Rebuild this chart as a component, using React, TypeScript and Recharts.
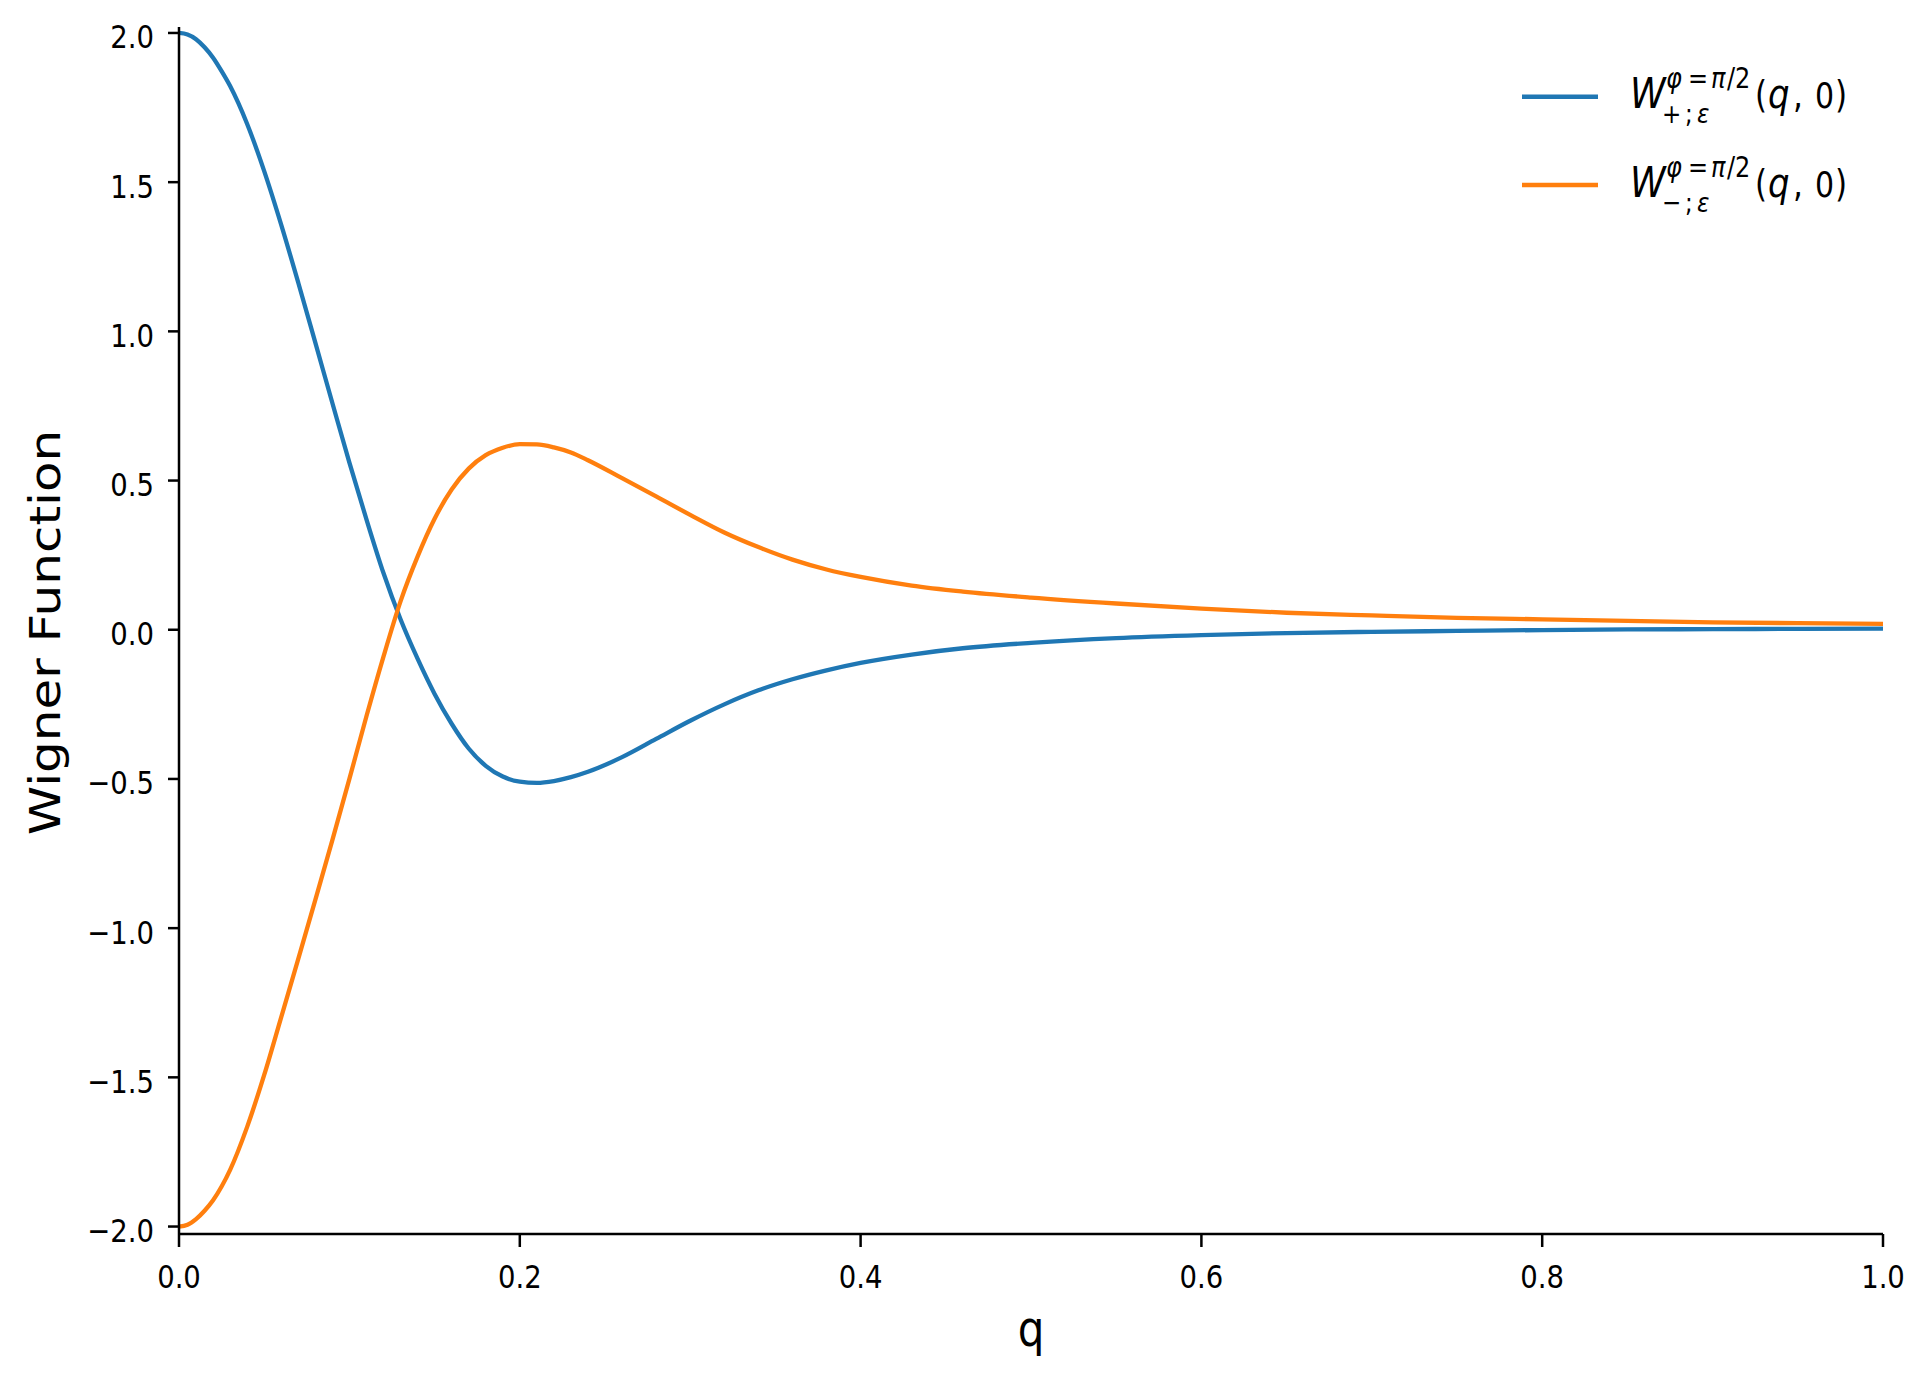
import React from 'react';
import { LineChart, Line, XAxis, YAxis, Legend, Label } from 'recharts';

// ---- data ----
const Q = [0, 0.005, 0.01, 0.015, 0.02, 0.025, 0.03, 0.04, 0.05, 0.06, 0.07, 0.08, 0.09, 0.1, 0.11, 0.12, 0.13, 0.14, 0.15, 0.16, 0.17, 0.18, 0.19, 0.2, 0.21, 0.22, 0.23, 0.24, 0.26, 0.28, 0.3, 0.32, 0.34, 0.36, 0.38, 0.4, 0.43, 0.46, 0.5, 0.55, 0.6, 0.65, 0.7, 0.75, 0.8, 0.85, 0.9, 0.95, 1.0];
const W_PLUS = [2.0, 1.995, 1.979, 1.952, 1.917, 1.872, 1.822, 1.695, 1.537, 1.357, 1.163, 0.962, 0.76, 0.56, 0.37, 0.19, 0.035, -0.097, -0.215, -0.315, -0.398, -0.456, -0.492, -0.509, -0.513, -0.507, -0.494, -0.476, -0.427, -0.366, -0.305, -0.25, -0.203, -0.166, -0.136, -0.111, -0.083, -0.062, -0.044, -0.028, -0.018, -0.011, -0.007, -0.004, -0.001, 0.001, 0.002, 0.003, 0.004];
const W_MINUS = [-2.0, -1.994, -1.975, -1.947, -1.912, -1.866, -1.81, -1.666, -1.492, -1.298, -1.103, -0.905, -0.705, -0.5, -0.29, -0.09, 0.095, 0.245, 0.372, 0.47, 0.54, 0.585, 0.61, 0.622, 0.621, 0.611, 0.594, 0.568, 0.508, 0.447, 0.385, 0.326, 0.277, 0.235, 0.202, 0.177, 0.148, 0.128, 0.108, 0.088, 0.071, 0.057, 0.048, 0.04, 0.035, 0.03, 0.025, 0.022, 0.02];
const X_TICKS = [0, 0.2, 0.4, 0.6, 0.8, 1.0];
const Y_TICKS = [-2.0, -1.5, -1.0, -0.5, 0.0, 0.5, 1.0, 1.5, 2.0];
const SERIES = [
  { key: 'plus', name: 'W+', sign: '+', color: '#1f77b4' },
  { key: 'minus', name: 'W−', sign: '−', color: '#ff7f0e' },
];
const X_LABEL = 'q';
const Y_LABEL = 'Wigner Function';

const data = Q.map((q, i) => ({ q, plus: W_PLUS[i], minus: W_MINUS[i] }));

// ---- styling ----
const W = 1920;
const H = 1370;
const FONT = 'DejaVu Sans';
const SY = 1.19; // vertical stretch of the reference image
const fmt = (v: number) => v.toFixed(1).replace('-', '\u2212');

const XTick = (props: any) => {
  const { x, y, payload } = props;
  return (
    <g transform={`translate(${x},${y + 41}) scale(1,${SY})`}>
      <text x={0} y={0} textAnchor="middle" fontFamily={FONT} fontSize={27.5} fill="#000">
        {fmt(payload.value)}
      </text>
    </g>
  );
};

const YTick = (props: any) => {
  const { x, y, payload } = props;
  return (
    <g transform={`translate(${x - 14},${y + 15.5}) scale(1,${SY})`}>
      <text x={0} y={0} textAnchor="end" fontFamily={FONT} fontSize={27.5} fill="#000">
        {fmt(payload.value)}
      </text>
    </g>
  );
};

const XLabel = (props: any) => {
  const vb = props.viewBox || { x: 179, y: 1234, width: 1704, height: 60 };
  return (
    <g transform={`translate(${vb.x + vb.width / 2},${vb.y + 112}) scale(1,${SY})`}>
      <text x={0} y={0} textAnchor="middle" fontFamily={FONT} fontSize={42} fill="#000">
        {X_LABEL}
      </text>
    </g>
  );
};

const YLabel = (props: any) => {
  const vb = props.viewBox || { x: 0, y: 27, width: 179, height: 1207 };
  return (
    <g transform={`translate(${vb.x + 60},${vb.y + vb.height / 2 + 2}) scale(1,${SY}) rotate(-90)`}>
      <text x={0} y={0} textAnchor="middle" fontFamily={FONT} fontSize={42} fill="#000">
        {Y_LABEL}
      </text>
    </g>
  );
};

const LegendContent = (props: any) => {
  const payload = props.payload || [];
  return (
    <svg width={W} height={260} style={{ display: 'block' }}>
      {payload.map((p: any, i: number) => {
        const s = SERIES.find((d) => d.key === p.dataKey) || SERIES[i];
        const dy = i * 88.3;
        const base = 108.3 + dy;
        return (
          <g key={i}>
            <line x1={1522} x2={1598} y1={96.7 + dy} y2={96.7 + dy} stroke={p.color} strokeWidth={4.5} />
            <g transform={`translate(0,${base}) scale(1,${SY})`} fontFamily={FONT} fill="#000">
              <text x={1630} y={0} fontSize={36} fontStyle="italic">W</text>
              <text x={1755} y={0} fontSize={31}>(</text>
              <text x={1768} y={0} fontSize={34} fontStyle="italic">q</text>
              <text x={1793} y={0} fontSize={31}>,</text>
              <text x={1815} y={0} fontSize={30}>0</text>
              <text x={1835} y={0} fontSize={31}>)</text>
            </g>
            <g transform={`translate(0,${base - 20}) scale(1,${SY})`} fontFamily={FONT} fill="#000">
              <text x={1666} y={0} fontSize={24} fontStyle="italic">φ</text>
              <text x={1688} y={0} fontSize={24}>=</text>
              <text x={1711} y={0} fontSize={24} fontStyle="italic">π</text>
              <text x={1727} y={0} fontSize={24}>/2</text>
            </g>
            <g transform={`translate(0,${base + 15}) scale(1,${SY})`} fontFamily={FONT} fill="#000">
              <text x={1662} y={0} fontSize={23}>{s.sign}</text>
              <text x={1685} y={0} fontSize={23}>;</text>
              <text x={1697} y={0} fontSize={23} fontStyle="italic">ε</text>
            </g>
          </g>
        );
      })}
    </svg>
  );
};

export default function App() {
  return (
    <div style={{ width: W, height: H, background: '#fff' }}>
      <style>{'body{margin:0;background:#fff;}'}</style>
      <LineChart width={W} height={H} data={data} margin={{ top: 27, right: 37, bottom: 76, left: 0 }}>
        <XAxis
          dataKey="q"
          type="number"
          domain={[0, 1]}
          ticks={X_TICKS}
          interval={0}
          height={60}
          tickSize={13}
          tickMargin={0}
          tick={<XTick />}
          tickLine={{ stroke: '#000', strokeWidth: 2.5 }}
          axisLine={{ stroke: '#000', strokeWidth: 2.5 }}
        >
          <Label content={XLabel} />
        </XAxis>
        <YAxis
          type="number"
          domain={[-2.025, 2.02]}
          ticks={Y_TICKS}
          interval={0}
          width={179}
          tickSize={11}
          tickMargin={0}
          tick={<YTick />}
          tickLine={{ stroke: '#000', strokeWidth: 2.5 }}
          axisLine={{ stroke: '#000', strokeWidth: 2.5 }}
          allowDataOverflow
        >
          <Label content={YLabel} />
        </YAxis>
        <Legend
          layout="horizontal"
          verticalAlign="middle"
          align="center"
          content={LegendContent}
          wrapperStyle={{ position: 'absolute', left: 0, top: 0, width: W, height: 260 }}
        />
        {SERIES.map((s) => (
          <Line
            key={s.key}
            dataKey={s.key}
            name={s.name}
            type="monotone"
            stroke={s.color}
            strokeWidth={4.3}
            dot={false}
            activeDot={false}
            isAnimationActive={false}
          />
        ))}
      </LineChart>
    </div>
  );
}
